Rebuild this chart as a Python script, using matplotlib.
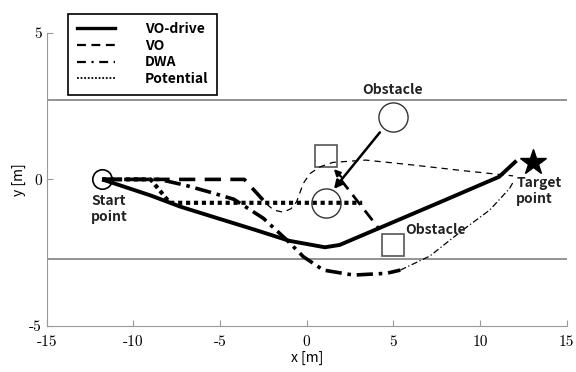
import matplotlib as mpl
mpl.use('Agg')
import matplotlib.pyplot as plt
from matplotlib.lines import Line2D

plt.rcParams['axes.unicode_minus'] = False
jp = ['Noto Sans CJK JP', 'DejaVu Sans']

# walls of the corridor
wall_y = [2.72, -2.72]

# VO-drive path
drive_x = [-11.8, -9.0, -7.3, -5.4, -3.0, -1.0, 1.05, 1.9, 4.2, 8.0, 11.1, 12.1]
drive_y = [0.0, -0.55, -0.93, -1.28, -1.72, -2.1, -2.32, -2.24, -1.66, -0.7, 0.09, 0.64]

# VO path (thick part, thin part, thick branch)
vo_thick_x = [-11.8, -3.6, -2.3]
vo_thick_y = [0.0, 0.0, -0.85]
vo_thin_x = [-2.3, -1.9, -1.35, -0.9, -0.58, -0.2, 0.19, 0.77, 1.5, 3.4, 6.0, 9.0, 11.9]
vo_thin_y = [-0.85, -1.05, -1.12, -1.0, -0.76, -0.14, 0.2, 0.43, 0.58, 0.66, 0.5, 0.3, 0.12]
vo_branch_x = [1.95, 4.15]
vo_branch_y = [0.0, -1.67]

# DWA path (thick part, then thin part)
dwa_thick_x = [-11.8, -8.5, -7.0, -5.5, -4.2, -2.5, -1.15, -0.2, 0.96, 2.7, 4.6, 5.4]
dwa_thick_y = [0.0, 0.0, -0.2, -0.45, -0.68, -1.33, -2.07, -2.64, -3.1, -3.27, -3.21, -3.1]
dwa_thin_x = [5.4, 7.1, 9.0, 10.55, 11.7, 11.9]
dwa_thin_y = [-3.1, -2.62, -1.73, -1.05, -0.31, -0.1]

# Potential path
pot_x = [-11.8, -9.0, -7.9, 3.2]
pot_y = [0.0, 0.0, -0.8, -0.8]

# obstacles
circ_x = [4.95, 1.09]
circ_y = [2.12, -0.80]
sq_x = [1.11, 4.97]
sq_y = [0.79, -2.24]
start = (-11.78, 0.0)
target = (13.05, 0.60)

fig = plt.figure(figsize=(5.76, 3.72), dpi=100)
ax = fig.add_axes([0.081, 0.1245, 0.903, 0.7865])

for y in wall_y:
    ax.axhline(y, color='#8a8a8a', lw=1.3, zorder=1)

ax.plot(drive_x, drive_y, color='k', lw=2.8, solid_capstyle='butt', zorder=4)
ax.plot(vo_thick_x, vo_thick_y, color='k', lw=2.6, ls=(0, (4.5, 2.6)), zorder=3)
ax.plot(vo_thin_x, vo_thin_y, color='k', lw=0.9, ls=(0, (5, 4)), zorder=3)
ax.plot(vo_branch_x, vo_branch_y, color='k', lw=2.0, ls=(0, (4.5, 2.6)), zorder=3)
ax.plot(dwa_thick_x, dwa_thick_y, color='k', lw=2.6, ls=(0, (4.5, 1.6, 1, 1.6)), zorder=3)
ax.plot(dwa_thin_x, dwa_thin_y, color='k', lw=0.9, ls=(0, (5, 2, 1, 2)), zorder=3)
ax.plot(pot_x, pot_y, color='k', lw=3.0, ls=(0, (1, 0.9)), zorder=3)

ax.plot(circ_x, circ_y, ls='none', marker='o', ms=21, mfc='white', mec='#333333', mew=1.0, zorder=2)
ax.plot(sq_x, sq_y, ls='none', marker='s', ms=16, mfc='white', mec='#555555', mew=1.2, zorder=2)
ax.plot(*start, marker='o', ms=14, mfc='none', mec='k', mew=1.2, zorder=5)
ax.plot(*target, marker='*', ms=19, color='k', zorder=5)

# obstacle motion arrows
ax.annotate('', xy=(1.47, -0.40), xytext=(4.32, 1.68),
            arrowprops=dict(arrowstyle='-|>', color='k', lw=1.8, mutation_scale=12), zorder=5)
ax.annotate('', xy=(1.45, 0.42), xytext=(2.1, 0.02),
            arrowprops=dict(arrowstyle='-|>', color='k', lw=1.6, mutation_scale=9), zorder=5)

txt = dict(fontsize=10, family=jp, weight='bold', color='#222222')
ax.text(4.95, 3.05, 'Obstacle', ha='center', va='center', **txt)
ax.text(5.66, -1.73, 'Obstacle', ha='left', va='center', **txt)
ax.text(-12.44, -0.5, 'Start\npoint', ha='left', va='top', linespacing=1.15, **txt)
ax.text(12.09, 0.12, 'Target\npoint', ha='left', va='top', linespacing=1.15, **txt)

ax.set_xlim(-15, 15)
ax.set_ylim(-5, 5)
ax.set_xticks([-15, -10, -5, 0, 5, 10, 15])
ax.set_yticks([-5, 0, 5])
for s in ['top', 'right']:
    ax.spines[s].set_visible(False)
for s in ['left', 'bottom']:
    ax.spines[s].set_color('#999999')
ax.tick_params(direction='in', length=4, color='#999999', labelsize=11)
ax.tick_params(axis='x', pad=7)
for lab in ax.get_xticklabels() + ax.get_yticklabels():
    lab.set_fontfamily('cmr10')
ax.set_xlabel('x [m]', fontsize=10, family=jp, labelpad=1)
ax.set_ylabel('y [m]', fontsize=10, family=jp, labelpad=2)

handles = [
    Line2D([], [], color='k', lw=2.4),
    Line2D([], [], color='k', lw=1.6, ls=(0, (4, 2.5))),
    Line2D([], [], color='k', lw=1.6, ls=(0, (4, 2.5, 1, 2.5))),
    Line2D([], [], color='k', lw=1.3, ls=(0, (1, 1))),
]
labels = ['VO-drive', 'VO', 'DWA', 'Potential']
leg = ax.legend(handles, labels, loc='upper left', bbox_to_anchor=(0.0415, 1.067),
                borderaxespad=0, fancybox=False, edgecolor='k', framealpha=1,
                handlelength=2.8, handletextpad=2.1, labelspacing=0.2,
                borderpad=0.6, prop=dict(family=jp, size=10, weight='bold'))
leg.get_frame().set_linewidth(1.2)

fig.savefig('out.png', dpi=100)
